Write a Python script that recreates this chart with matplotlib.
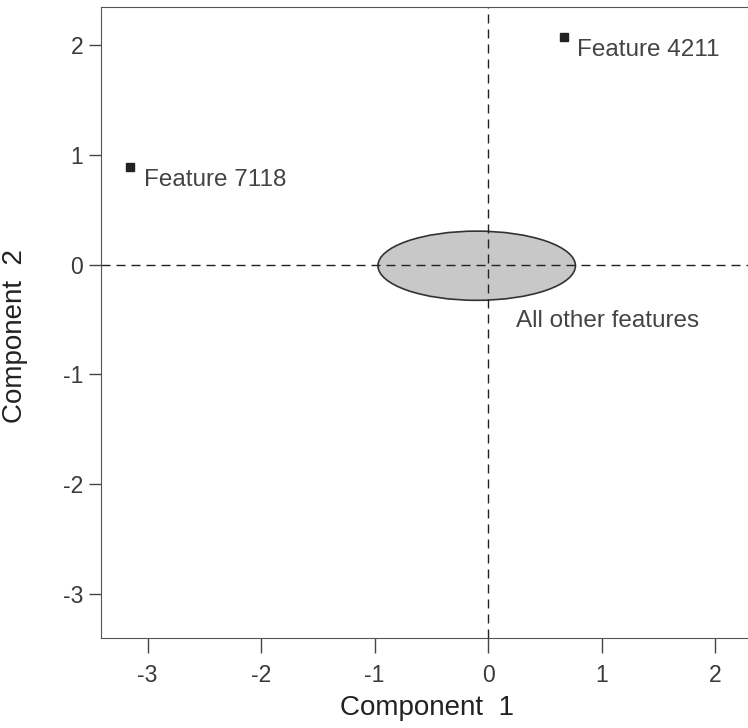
import matplotlib
matplotlib.use('Agg')
import matplotlib.pyplot as plt
from matplotlib.patches import Ellipse

plt.rcParams['font.family'] = ['Liberation Sans', 'DejaVu Sans']
plt.rcParams['axes.unicode_minus'] = False

# labelled outlier features
feat_names = ['Feature 7118', 'Feature 4211']
feat_x = [-3.15, 0.67]
feat_y = [0.89, 2.075]

# ellipse summarising all other features
ell_center = (-0.10, -0.01)
ell_width = 1.74
ell_height = 0.63
ell_label = 'All other features'
ell_label_xy = (0.245, -0.57)

xticks = [-3, -2, -1, 0, 1, 2]
yticks = [-3, -2, -1, 0, 1, 2]

fig = plt.figure(figsize=(7.48, 7.28), dpi=100)
ax = fig.add_axes([0.135, 0.1236, 0.865, 0.8668])

ax.add_patch(Ellipse(ell_center, ell_width, ell_height, facecolor='#c8c8c8',
                     edgecolor='#333333', linewidth=1.2, zorder=1))
ax.axhline(0, color='#222222', linestyle=(0, (6.5, 4.3)), linewidth=1, zorder=2)
ax.axvline(0, color='#222222', linestyle=(0, (6.5, 4.3)), linewidth=1, zorder=2)

ax.plot(feat_x, feat_y, 's', color='#222222', markersize=5.5, zorder=3)
for name, x, y in zip(feat_names, feat_x, feat_y):
    ax.annotate(name, (x, y), xytext=(9.4, -13.5), textcoords='offset points',
                fontsize=17.5, color='#444444', ha='left', va='baseline')
ax.text(ell_label_xy[0], ell_label_xy[1], ell_label, fontsize=17.5,
        color='#444444', ha='left', va='baseline')

ax.set_xlim(-3.41, 2.29)
ax.set_ylim(-3.40, 2.346)
ax.set_xticks(xticks)
ax.set_yticks(yticks)
ax.tick_params(direction='out', width=1, color='#444444',
               labelsize=16.5, labelcolor='#3a3a3a')
ax.tick_params(axis='x', length=10.5, pad=8)
ax.tick_params(axis='y', length=8.5, pad=4.3)
for s in ['left', 'bottom', 'top']:
    ax.spines[s].set_color('#555555')
ax.spines['right'].set_visible(False)

ax.set_xlabel('Component  1', fontsize=20, color='#222222')
ax.set_ylabel('Component  2', fontsize=20, color='#222222')
ax.xaxis.set_label_coords(0.504, -0.0903)
ax.yaxis.set_label_coords(-0.1128, 0.4786)

plt.savefig('out.png', dpi=100)
